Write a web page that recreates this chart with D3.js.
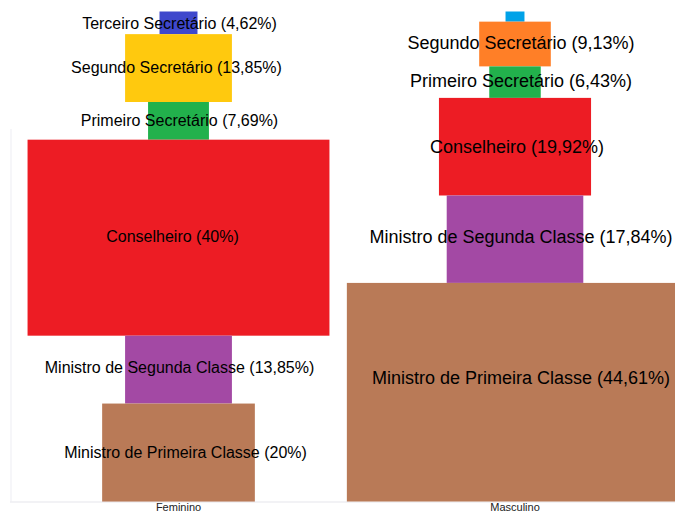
<!DOCTYPE html>
<html>
<head>
<meta charset="utf-8">
<script src="https://cdn.jsdelivr.net/npm/d3@7"></script>
<style>
  html, body { margin: 0; padding: 0; background: #fff; }
  svg { display: block; }
</style>
</head>
<body>
<svg id="chart" width="675" height="513"></svg>
<script>
// ---- data ----
const categories = ["Feminino", "Masculino"];
const levels = ["Terceiro Secretário", "Segundo Secretário", "Primeiro Secretário",
                "Conselheiro", "Ministro de Segunda Classe", "Ministro de Primeira Classe"];
const feminino = [4.62, 13.85, 7.69, 40, 13.85, 20];
const masculino = [2.07, 9.13, 6.43, 19.92, 17.84, 44.61];
const femininoLabels = ["4,62%", "13,85%", "7,69%", "40%", "13,85%", "20%"];
const masculinoLabels = [null, "9,13%", "6,43%", "19,92%", "17,84%", "44,61%"];
const femininoColors = ["#3F48CC", "#FFC90E", "#22B14C", "#ED1C24", "#A349A4", "#B97A57"];
const masculinoColors = ["#00A2E8", "#FF7F27", "#22B14C", "#ED1C24", "#A349A4", "#B97A57"];

// ---- layout/style ----
const W = 675, H = 513;
const svg = d3.select("#chart");

const xCenter = d3.scalePoint().domain(categories).range([178.5, 515]);
const wScale = d3.scaleLinear().domain([0, 100]).range([3.5, 749.5]);
const yScale = d3.scaleLinear().domain([0, 100]).range([11.5, 501.5]);

const series = [
  { cat: "Feminino", values: feminino, labels: femininoLabels, colors: femininoColors,
    fontSize: 16, labelDx: [1, -2, 1, -6, 1, 7], labelDy: [1, -1, 0, -1, -2, 0] },
  { cat: "Masculino", values: masculino, labels: masculinoLabels, colors: masculinoColors,
    fontSize: 18, labelDx: [6, 6, 6, 2, 6, 6], labelDy: [0, -1, -1, 0, -3, -15] }
];

// faint background frame lines
svg.append("line").attr("x1", 11).attr("x2", 11).attr("y1", 129).attr("y2", 502)
  .attr("stroke", "#f3f3f7").attr("stroke-width", 1.5);
svg.append("line").attr("x1", 10).attr("x2", W).attr("y1", 502).attr("y2", 502)
  .attr("stroke", "#eeeef2").attr("stroke-width", 1.5);

series.forEach(s => {
  let cum = 0;
  const rows = s.values.map((v, i) => {
    const r = { level: levels[i], value: v, start: cum, end: cum + v, label: s.labels[i], color: s.colors[i], i };
    cum += v;
    return r;
  });
  const cx = xCenter(s.cat);
  const g = svg.append("g");
  g.selectAll("rect").data(rows).join("rect")
    .attr("x", d => cx - wScale(d.value) / 2)
    .attr("width", d => wScale(d.value))
    .attr("y", d => yScale(d.start))
    .attr("height", d => yScale(d.end) - yScale(d.start))
    .attr("fill", d => d.color);

  g.selectAll("text").data(rows.filter(d => d.label)).join("text")
    .attr("x", d => cx + s.labelDx[d.i])
    .attr("y", d => (yScale(d.start) + yScale(d.end)) / 2 + s.labelDy[d.i])
    .attr("dy", "0.35em")
    .attr("text-anchor", "middle")
    .attr("font-family", "Liberation Sans, Arial, sans-serif")
    .attr("font-size", s.fontSize)
    .attr("fill", "#000")
    .text(d => `${d.level} (${d.label})`);

  svg.append("text")
    .attr("x", cx)
    .attr("y", 510.5)
    .attr("text-anchor", "middle")
    .attr("font-family", "Liberation Sans, Arial, sans-serif")
    .attr("font-size", 11)
    .attr("fill", "#222")
    .text(s.cat);
});
</script>
</body>
</html>
